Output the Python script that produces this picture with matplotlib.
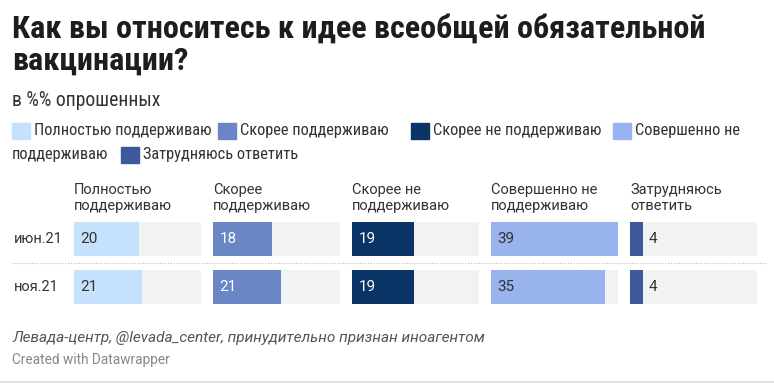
"""Split-bar chart: attitude to universal mandatory vaccination (Levada)."""

import matplotlib
matplotlib.use("Agg")
import matplotlib.pyplot as plt
from matplotlib.lines import Line2D
from matplotlib.patches import Rectangle
from matplotlib.transforms import blended_transform_factory

periods = ["июн.21", "ноя.21"]
answers = [
    "Полностью поддерживаю",
    "Скорее поддерживаю",
    "Скорее не поддерживаю",
    "Совершенно не поддерживаю",
    "Затрудняюсь ответить",
]
headers = [
    "Полностью\nподдерживаю",
    "Скорее\nподдерживаю",
    "Скорее не\nподдерживаю",
    "Совершенно не\nподдерживаю",
    "Затрудняюсь\nответить",
]
values_jun = [20, 18, 19, 39, 4]
values_nov = [21, 21, 19, 35, 4]
colors = ["#c6e1fc", "#6a86c5", "#0b3467", "#98b3ed", "#3c5a99"]
label_colors = ["#333333", "white", "white", "#333333", "#333333"]

W, H = 774, 384
NARROW = ["Liberation Sans Narrow", "Roboto Condensed", "Roboto", "DejaVu Sans"]
REG = ["Roboto", "DejaVu Sans"]

fig = plt.figure(figsize=(W / 100, H / 100), dpi=100)
fig.patch.set_facecolor("white")


def fx(px):
    return px / W


def fy(py):
    return 1 - py / H


# title / subtitle
fig.text(fx(12), fy(38), "Как вы относитесь к идее всеобщей обязательной",
         family=NARROW, weight="bold", fontsize=23.2, color="#1d1d1d", va="baseline")
fig.text(fx(12), fy(70), "вакцинации?",
         family=NARROW, weight="bold", fontsize=23.2, color="#1d1d1d", va="baseline")
fig.text(fx(12), fy(101), "в %% опрошенных", family=NARROW, fontsize=14.2,
         color="#333333", va="center")

# legend (wraps onto two lines like the original)
legend_items = [
    (12, 131, 0, "Полностью поддерживаю"),
    (218, 131, 1, "Скорее поддерживаю"),
    (411, 131, 2, "Скорее не поддерживаю"),
    (613, 131, 3, "Совершенно не"),
    (121, 155, 4, "Затрудняюсь ответить"),
]
for x, y, ci, txt in legend_items:
    fig.patches.append(Rectangle((fx(x), fy(y + 8)), 18 / W, 16 / H,
                                 transform=fig.transFigure, color=colors[ci]))
    fig.text(fx(x + 22), fy(y), txt, family=NARROW, fontsize=11.8,
             color="#333333", va="center")
fig.text(fx(12), fy(155), "поддерживаю", family=NARROW, fontsize=11.8,
         color="#333333", va="center")

# panels
panel_left = [74, 213, 352, 491, 630]
panel_w = 127
top, bottom = 222, 304
vmax = max(values_jun + values_nov)
bar_h = 34 / 48

axes = []
for j in range(len(answers)):
    ax = fig.add_axes([fx(panel_left[j]), fy(bottom), panel_w / W, (bottom - top) / H])
    ax.set_xlim(0, vmax)
    ax.set_ylim(1 + 17 / 48, -17 / 48)
    ax.axis("off")
    vals = [values_jun[j], values_nov[j]]
    ax.barh([0, 1], [vmax, vmax], height=bar_h, left=0, color="#f2f2f2")
    ax.barh([0, 1], vals, height=bar_h, left=0, color=colors[j])
    for i, v in enumerate(vals):
        if v < 8:
            ax.text(v + 1.8, i, str(v), va="center", ha="left", family=REG,
                    fontsize=11, color="#333333")
        else:
            ax.text(2.0, i, str(v), va="center", ha="left", family=REG,
                    fontsize=11, color=label_colors[j])
    fig.text(fx(panel_left[j]), fy(198), headers[j], family=REG, fontsize=10.5,
             color="#333333", va="center", linespacing=1.15)
    axes.append(ax)

trans = blended_transform_factory(fig.transFigure, axes[0].transData)
for i, p in enumerate(periods):
    axes[0].text(fx(14), i, p, transform=trans, family=REG, fontsize=10.5,
                 color="#333333", va="center", ha="left")

# dotted row separator
fig.lines.append(Line2D([fx(12), fx(766)], [fy(262.5), fy(262.5)],
                        transform=fig.transFigure, color="#bbbbbb",
                        lw=0.8, ls=(0, (1, 1.5))))

# footer
fig.text(fx(12), fy(338), "Левада-центр, @levada_center, принудительно признан иноагентом",
         family=REG, style="italic", fontsize=11.1, color="#555555", va="center")
fig.text(fx(12), fy(360), "Created with Datawrapper", family=REG, fontsize=9.8,
         color="#888888", va="center")
fig.lines.append(Line2D([0, 1], [fy(382), fy(382)], transform=fig.transFigure,
                        color="#d9d9d9", lw=1.2))

fig.savefig("out.png", dpi=100, facecolor="white")
